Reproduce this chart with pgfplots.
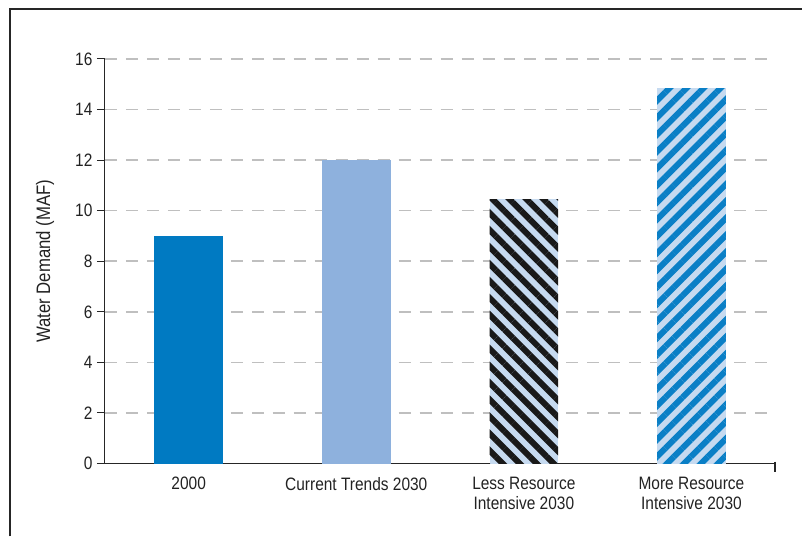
\documentclass[border=0pt]{standalone}
\usepackage{fontspec}
\setmainfont{Liberation Sans}[FakeStretch=0.86]
\usepackage{pgfplots}
\pgfplotsset{compat=1.18}
\usetikzlibrary{patterns.meta}
\definecolor{cA}{HTML}{007AC2}
\definecolor{cB}{HTML}{8EB1DD}
\definecolor{hbg}{HTML}{C6DAF0}
\definecolor{hblue}{HTML}{0A7FC6}
\definecolor{txt}{HTML}{222222}
\begin{document}
\begin{tikzpicture}
\path (0,0) rectangle (803bp,537bp);
\draw[line width=1.6bp, color=black!85] (10bp,0) -- (10bp,528bp) -- (803bp,528bp);
\begin{axis}[
  at={(105bp,73bp)}, anchor=south west,
  scale only axis, width=671bp, height=405bp,
  xmin=-0.5, xmax=3.5, ymin=0, ymax=16,
  axis lines=left,
  axis line style={-, line width=1.2bp, color=black!85},
  ytick={0,2,...,16},
  xtick={0,1,2,3},
  xticklabels={2000, Current Trends 2030, {Less Resource\\Intensive 2030}, {More Resource\\Intensive 2030}},
  major x tick style={draw=none},
  extra x ticks={-0.5,0.5,1.5,2.5,3.5},
  extra x tick labels={},
  extra x tick style={grid=none, major tick length=8bp, tick style={line width=1.2bp, color=black!85}},
  tick align=outside,
  major tick length=8bp,
  y tick style={line width=1bp, color=black!85},
  ymajorgrids,
  grid style={dash pattern=on 12bp off 9bp, line width=1.5bp, color=black!25},
  /pgf/number format/assume math mode=true,
  yticklabel style={font=\fontsize{18bp}{20bp}\selectfont, color=txt, xshift=-1bp},
  xticklabel style={font=\fontsize{18bp}{20bp}\selectfont, color=txt, align=center, yshift=-2bp},
  ylabel={Water Demand (MAF)},
  every axis y label/.style={at={(axis description cs:-0.0894,0.5)}, rotate=90, anchor=center, font=\fontsize{19.5bp}{22bp}\selectfont, color=txt},
  clip=false,
]
\addplot[ybar, bar width=0.41, fill=cA, draw=none] coordinates {(0,9.0)};
\addplot[ybar, bar width=0.41, fill=cB, draw=none] coordinates {(1,12.0)};
\addplot[ybar, bar width=0.41, fill=hbg, draw=none, postaction={pattern={Lines[angle=-45,distance=12bp,line width=6bp]}, pattern color=black!90}] coordinates {(2,10.45)};
\addplot[ybar, bar width=0.41, fill=hbg, draw=none, postaction={pattern={Lines[angle=45,distance=12bp,line width=6bp]}, pattern color=hblue}] coordinates {(3,14.85)};
\draw[line width=2.5bp, color=black!85] ([yshift=2bp]axis cs:3.5,0) -- ([yshift=-8bp]axis cs:3.5,0);
\end{axis}
\end{tikzpicture}
\end{document}
